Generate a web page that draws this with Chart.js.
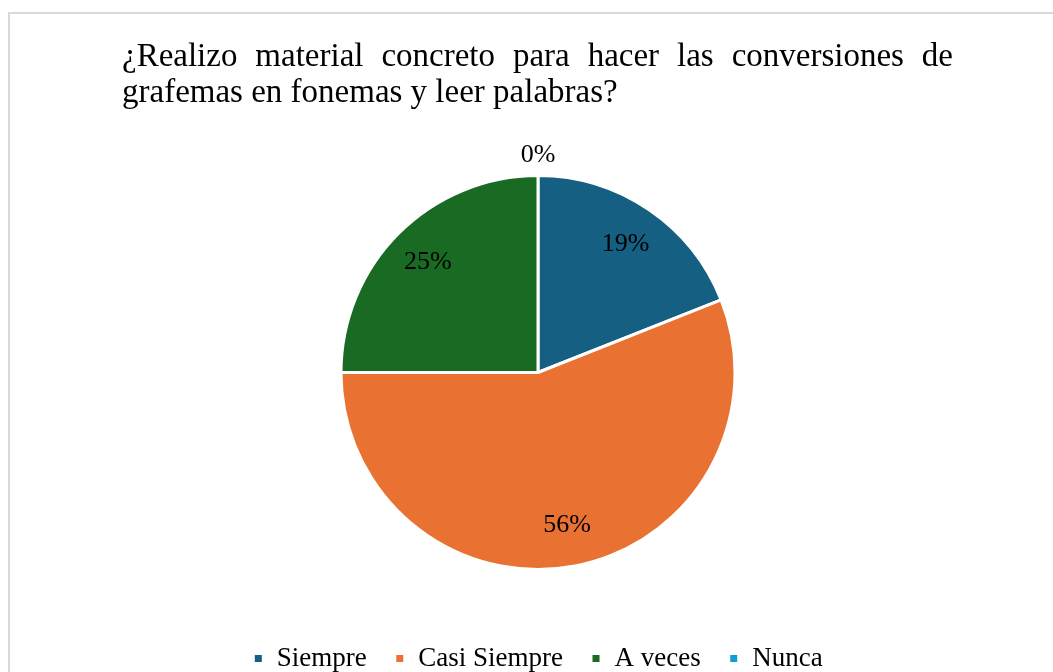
<!DOCTYPE html>
<html>
<head>
<meta charset="utf-8">
<script src="https://cdn.jsdelivr.net/npm/chart.js@4.4.0/dist/chart.umd.min.js"></script>
<style>
  html, body { margin: 0; padding: 0; background: #fff; }
  #wrap { width: 1053px; height: 672px; position: relative; }
</style>
</head>
<body>
<div id="wrap"><canvas id="pieChart"></canvas></div>
<script>
// chart data
const categories = ['Siempre', 'Casi Siempre', 'A veces', 'Nunca'];
const percentages = [19, 56, 25, 0];
const sliceColors = ['#156082', '#E97132', '#196B24', '#0F9ED5'];
const titleLines = [
    '¿Realizo material concreto para hacer las conversiones de',
    'grafemas en fonemas y leer palabras?'
];

const serif = '"Liberation Serif", "Times New Roman", serif';

// frame + justified title like the original document
const framePlugin = {
    id: 'frame',
    beforeDraw(chart) {
        const ctx = chart.ctx;
        ctx.save();
        ctx.strokeStyle = '#d9d9d9';
        ctx.lineWidth = 2;
        ctx.strokeRect(9, 13, 1100, 700);
        ctx.fillStyle = '#000';
        ctx.font = '33px ' + serif;
        ctx.textBaseline = 'alphabetic';
        const left = 122, right = 953;
        // first line justified
        const words = titleLines[0].split(' ');
        const wordsW = words.reduce((s, w) => s + ctx.measureText(w).width, 0);
        const gap = (right - left - wordsW) / (words.length - 1);
        let x = left;
        words.forEach(w => {
            ctx.fillText(w, x, 66);
            x += ctx.measureText(w).width + gap;
        });
        ctx.fillText(titleLines[1], left, 102);
        ctx.restore();
    }
};

// percentage labels
const labelPlugin = {
    id: 'pctLabels',
    afterDatasetsDraw(chart) {
        const ctx = chart.ctx;
        const meta = chart.getDatasetMeta(0);
        ctx.save();
        ctx.fillStyle = '#000';
        ctx.font = '26px ' + serif;
        ctx.textAlign = 'center';
        ctx.textBaseline = 'middle';
        meta.data.forEach((arc, i) => {
            const p = arc.getProps(['x', 'y', 'startAngle', 'endAngle', 'outerRadius'], true);
            const mid = (p.startAngle + p.endAngle) / 2;
            const r = percentages[i] === 0 ? p.outerRadius + 20 : p.outerRadius * 0.79;
            ctx.fillText(percentages[i] + '%', p.x + Math.cos(mid) * r, p.y + Math.sin(mid) * r);
        });
        ctx.restore();
    }
};

const ctx = document.getElementById('pieChart').getContext('2d');
new Chart(ctx, {
    type: 'pie',
    data: {
        labels: categories,
        datasets: [{
            data: percentages,
            backgroundColor: sliceColors,
            borderColor: '#ffffff',
            borderWidth: 3
        }]
    },
    options: {
        responsive: true,
        maintainAspectRatio: false,
        animation: false,
        radius: 197,
        layout: {
            padding: { top: 128, bottom: -10, left: 23, right: 0 }
        },
        plugins: {
            tooltip: { enabled: false },
            legend: {
                position: 'bottom',
                labels: {
                    boxWidth: 10,
                    boxHeight: 10,
                    padding: 28,
                    color: '#000',
                    font: { family: serif, size: 27 }
                }
            }
        }
    },
    plugins: [framePlugin, labelPlugin]
});
</script>
</body>
</html>
